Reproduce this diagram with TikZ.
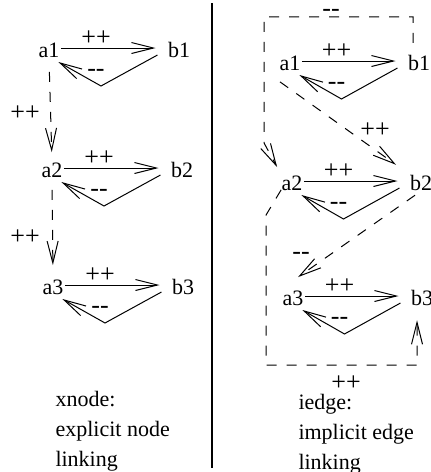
\documentclass[tikz,border=0pt]{standalone}
\usepackage{fontspec}
\setmainfont{Liberation Serif}
\usetikzlibrary{positioning, calc, arrows.meta}

\begin{document}
\begin{tikzpicture}[x=0.5pt, y=-0.5pt, line width=0.5pt,
    vtx/.style={inner sep=0.5pt, font=\fontsize{11}{13}\selectfont},
    sgn/.style={inner sep=0pt, font=\fontsize{13}{15}\selectfont},
    captxt/.style={inner sep=0pt, anchor=north west, align=left, font=\fontsize{11}{15}\selectfont},
    solidlink/.style={-{Straight Barb[length=11pt, width=5.5pt]}},
    dashlink/.style={solidlink, dash pattern=on 5pt off 5pt}]

    \useasboundingbox (0,0) rectangle (430,472);

    % --- Left: explicit node linking ---
    \node[vtx] (la1) at (49,50) {a1};
    \node[vtx] (lb1) at (179,50) {b1};
    \node[vtx] (la2) at (52,170) {a2};
    \node[vtx] (lb2) at (182,170) {b2};
    \node[vtx] (la3) at (53,287) {a3};
    \node[vtx] (lb3) at (183,287) {b3};

    % row 1
    \draw[solidlink] ($(la1.east)+(0,-2)$) -- ($(lb1.west)+(-11,-2)$);
    \draw[solidlink] ($(lb1.west)+(-9,5)$) -- ($(la1)!0.5!(lb1)+(-13,36)$) -- ($(la1.east)+(-2.5,12)$);
    \node[sgn] (lp1) at ($(la1)!0.5!(lb1)+(-18,-12)$) {++};
    \node[sgn] (lm1) at ($(la1)!0.5!(lb1)+(-18,23)$) {{-}{-}};
    % row 2
    \draw[solidlink] ($(la2.east)+(0,-2)$) -- ($(lb2.west)+(-11,-2)$);
    \draw[solidlink] ($(lb2.west)+(-9,5)$) -- ($(la2)!0.5!(lb2)+(-13,36)$) -- ($(la2.east)+(-2.5,12)$);
    \node[sgn] (lp2) at ($(la2)!0.5!(lb2)+(-18,-12)$) {++};
    \node[sgn] (lm2) at ($(la2)!0.5!(lb2)+(-18,23)$) {{-}{-}};
    % row 3
    \draw[solidlink] ($(la3.east)+(0,-2)$) -- ($(lb3.west)+(-11,-2)$);
    \draw[solidlink] ($(lb3.west)+(-9,5)$) -- ($(la3)!0.5!(lb3)+(-13,36)$) -- ($(la3.east)+(-2.5,12)$);
    \node[sgn] (lp3) at ($(la3)!0.5!(lb3)+(-18,-12)$) {++};
    \node[sgn] (lm3) at ($(la3)!0.5!(lb3)+(-18,23)$) {{-}{-}};

    % node to node links
    \draw[dashlink, shorten <=6.5pt, shorten >=4.5pt] (la1.south) -- (la2.north);
    \draw[dashlink, shorten <=5.5pt, shorten >=6.5pt] (la2.south) -- (la3.north);
    \node[sgn] (lq1) at (25,113) {++};
    \node[sgn] (lq2) at (25,237) {++};

    % --- Divider ---
    \draw[line width=1pt] (212,3) -- (212,468);

    % --- Right: implicit edge linking ---
    \node[vtx] (ra1) at (290,63) {a1};
    \node[vtx] (rb1) at (419,63) {b1};
    \node[vtx] (ra2) at (292,183) {a2};
    \node[vtx] (rb2) at (421,183) {b2};
    \node[vtx] (ra3) at (293,298) {a3};
    \node[vtx] (rb3) at (422,298) {b3};

    % row 1
    \draw[solidlink] ($(ra1.east)+(0,-2)$) -- ($(rb1.west)+(-11,-2)$);
    \draw[solidlink] ($(rb1.west)+(-9,5)$) -- ($(ra1)!0.5!(rb1)+(-13,36)$) -- ($(ra1.east)+(-2.5,12)$);
    \node[sgn] (rp1) at ($(ra1)!0.5!(rb1)+(-18,-12)$) {++};
    \node[sgn] (rm1) at ($(ra1)!0.5!(rb1)+(-18,23)$) {{-}{-}};
    % row 2
    \draw[solidlink] ($(ra2.east)+(0,-2)$) -- ($(rb2.west)+(-11,-2)$);
    \draw[solidlink] ($(rb2.west)+(-9,5)$) -- ($(ra2)!0.5!(rb2)+(-13,36)$) -- ($(ra2.east)+(-2.5,12)$);
    \node[sgn] (rp2) at ($(ra2)!0.5!(rb2)+(-18,-12)$) {++};
    \node[sgn] (rm2) at ($(ra2)!0.5!(rb2)+(-18,23)$) {{-}{-}};
    % row 3
    \draw[solidlink] ($(ra3.east)+(0,-2)$) -- ($(rb3.west)+(-11,-2)$);
    \draw[solidlink] ($(rb3.west)+(-9,5)$) -- ($(ra3)!0.5!(rb3)+(-13,36)$) -- ($(ra3.east)+(-2.5,12)$);
    \node[sgn] (rp3) at ($(ra3)!0.5!(rb3)+(-18,-12)$) {++};
    \node[sgn] (rm3) at ($(ra3)!0.5!(rb3)+(-18,23)$) {{-}{-}};

    % edge to node links
    \draw[dashlink] ($(rb1.north)+(-6,-11)$) -- ++(0,-26) -| ($(ra2.north west)+(-16,-31)$) -- ($(ra2.north west)+(-3,-7)$);
    \node[sgn] (rt0) at (331,13) {{-}{-}};
    \draw[dashlink] ($(ra1.south)+(-10,10)$) -- ($(rb2.north west)+(-12.5,-9)$);
    \node[sgn] (rd1) at (375,130) {++};
    \draw[dashlink] ($(rb2.south)+(-6,3)$) -- ($(ra3.north)+(5,-12)$);
    \node[sgn] (rd2) at (301,256) {{-}{-}};
    \draw[dashlink] ($(ra2.south west)+(1,-2)$) -- ($(ra2.south west)+(-14,23)$) |- ($(rb3.south)+(-5,58)$) -- ($(rb3.south)+(-5,13)$);
    \node[sgn] (rt1) at (346,383) {++};

    % --- Captions ---
    \node[captxt] (xcap) at (55,391) {xnode:\\explicit node\\linking};
    \node[captxt] (icap) at (298,394) {iedge:\\implicit edge\\linking};

\end{tikzpicture}
\end{document}
